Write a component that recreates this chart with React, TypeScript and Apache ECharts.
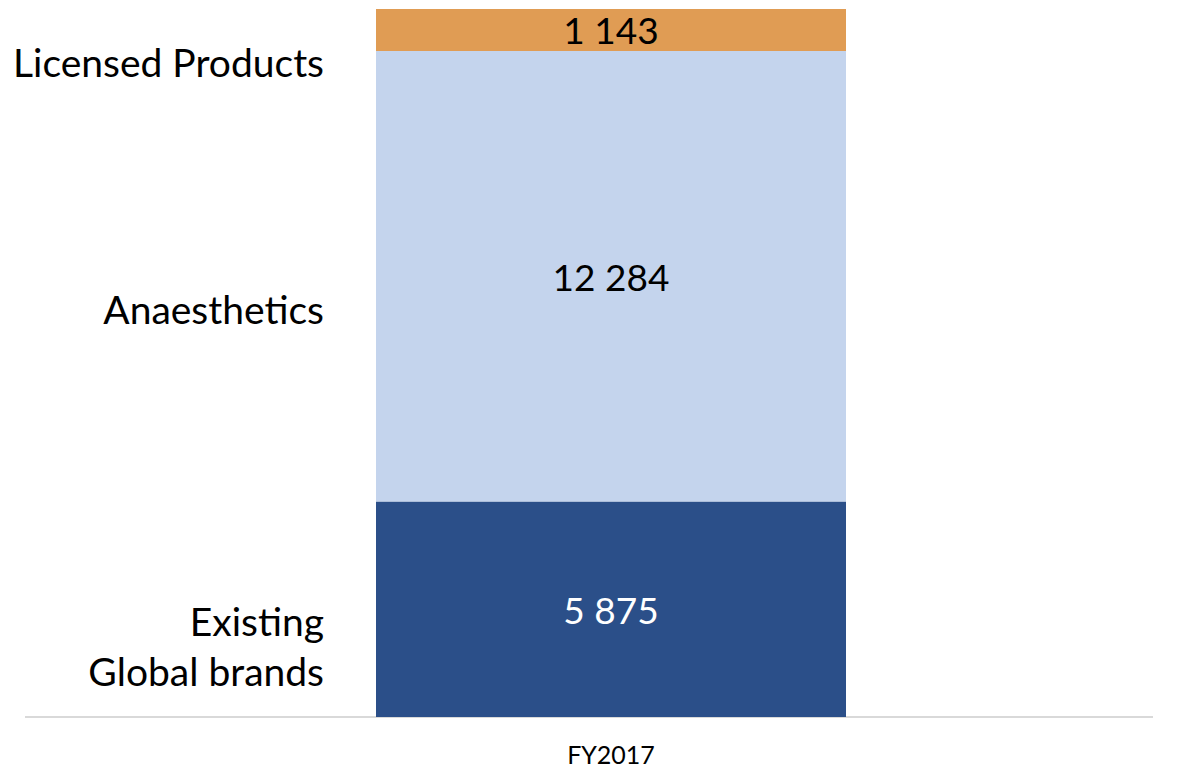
import React, { useEffect, useRef } from "react";
import * as echarts from "echarts";

const categories = ["FY2017"];
const seriesNames = ["Existing Global brands", "Anaesthetics", "Licensed Products"];
const seriesLabels = ["Existing\nGlobal brands", "Anaesthetics", "Licensed Products"];
const existingGlobalBrands = [5875];
const anaesthetics = [12284];
const licensedProducts = [1143];

const seriesValues = [existingGlobalBrands, anaesthetics, licensedProducts];
const colors = ["#2B4F89", "#C4D4ED", "#E09C54"];
const valueLabelColors = ["#FFFFFF", "#000000", "#000000"];
const nameOffsets = [37, 33, 32];

const FONT = "Lato, 'Open Sans', sans-serif";

function fmt(v: number): string {
  return String(v).replace(/\B(?=(\d{3})+(?!\d))/g, " ");
}

export default function App() {
  const ref = useRef<HTMLDivElement>(null);

  useEffect(() => {
    document.body.style.margin = "0";
    if (!ref.current) return;
    const chart = echarts.init(ref.current, undefined, { renderer: "svg" });
    const total = categories.map((_, i) =>
      seriesValues.reduce((s, arr) => s + arr[i], 0)
    );
    const maxTotal = Math.max(...total);

    const valueSeries = seriesValues.map((vals, i) => ({
      name: seriesNames[i],
      type: "bar",
      stack: "values",
      xAxisIndex: 0,
      yAxisIndex: 0,
      barWidth: "100%",
      data: vals,
      itemStyle: { color: colors[i] },
      label: {
        show: true,
        position: "inside",
        formatter: (p: any) => fmt(p.value),
        color: valueLabelColors[i],
        fontFamily: FONT,
        fontSize: 37,
      },
    }));

    const nameSeries = seriesValues.map((vals, i) => ({
      name: seriesNames[i] + " label",
      type: "bar",
      stack: "names",
      xAxisIndex: 1,
      yAxisIndex: 0,
      barWidth: "100%",
      silent: true,
      data: vals,
      itemStyle: { color: "rgba(0,0,0,0)" },
      label: {
        show: true,
        position: "left",
        distance: 52,
        offset: [0, nameOffsets[i]],
        formatter: () => seriesLabels[i],
        color: "#000000",
        fontFamily: FONT,
        fontSize: 39,
        lineHeight: 50,
        align: "right",
      },
    }));

    chart.setOption({
      animation: false,
      backgroundColor: "#FFFFFF",
      grid: { left: 376, right: 335, top: 9, bottom: 54, containLabel: false },
      xAxis: [
        {
          type: "category",
          data: categories,
          axisLine: { show: false },
          axisTick: { show: false },
          axisLabel: {
            color: "#000000",
            fontFamily: FONT,
            fontSize: 25,
            lineHeight: 20,
            margin: 27,
          },
        },
        {
          type: "category",
          data: categories,
          show: false,
        },
      ],
      yAxis: {
        type: "value",
        min: 0,
        max: maxTotal,
        show: false,
        splitLine: { show: false },
      },
      graphic: [
        {
          type: "line",
          shape: { x1: 25, y1: 717, x2: 1153, y2: 717 },
          style: { stroke: "#D9D9D9", lineWidth: 2 },
          silent: true,
        },
      ],
      series: [...valueSeries, ...nameSeries],
    });

    return () => chart.dispose();
  }, []);

  return <div ref={ref} style={{ width: 1181, height: 771 }} />;
}
